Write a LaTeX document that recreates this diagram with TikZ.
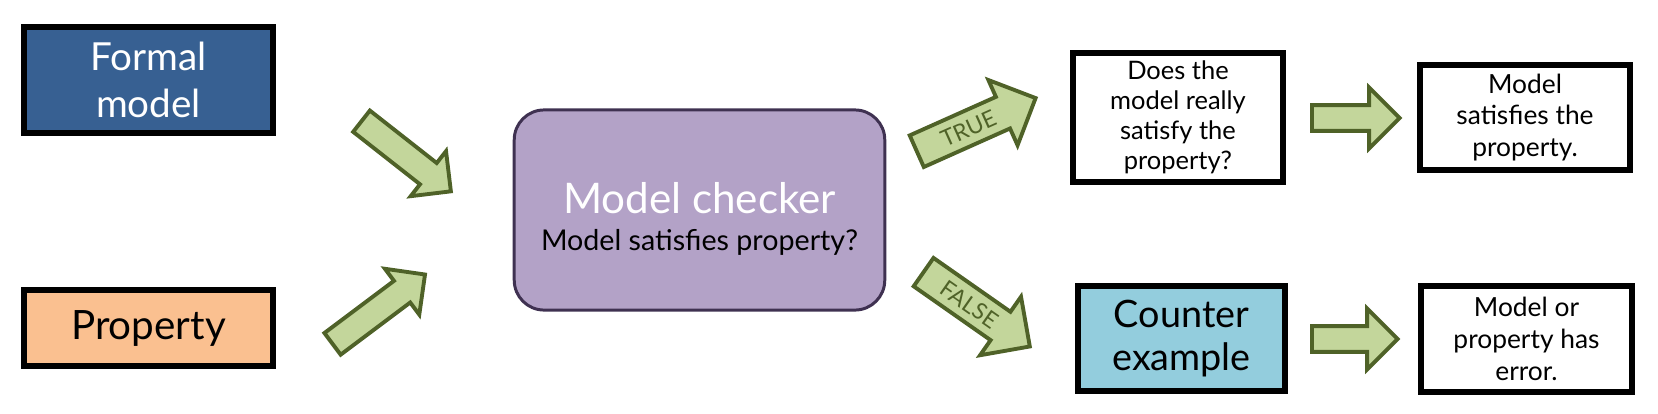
\documentclass[tikz,border=0pt]{standalone}
\usepackage{fontspec}
\setmainfont{Lato}
\usetikzlibrary{shapes.arrows,calc}

\definecolor{formalblue}{HTML}{376092}
\definecolor{propertyorange}{HTML}{FAC090}
\definecolor{checkerfill}{HTML}{B3A2C7}
\definecolor{checkerline}{HTML}{3F3151}
\definecolor{counterblue}{HTML}{93CDDD}
\definecolor{arrowfill}{HTML}{C3D69B}
\definecolor{arrowline}{HTML}{4F6228}

% block arrow from tail coordinate to tip coordinate
\newcommand{\fatarrow}[4][]{%
  \path let \p1=(#2), \p2=(#3),
    \n1={atan2(\y2-\y1,\x2-\x1)}, \n2={veclen(\x2-\x1,\y2-\y1)} in
    node[fatarrow,#1,anchor=tail,rotate=\n1,minimum height=\n2-2.5pt] at (#2) {#4};}

\begin{document}
\begin{tikzpicture}[x=0.02cm,y=-0.02cm,
    box/.style={draw=black,line width=3.4pt,align=center,inner sep=0pt},
    fatarrow/.style={single arrow,draw=arrowline,fill=arrowfill,line width=2.2pt,
      inner xsep=0pt,text height=0pt,text depth=0pt,text=arrowline},
    inarrow/.style={inner ysep=6.6pt,minimum width=30.5pt,single arrow head extend=8.6pt},
    splitarrow/.style={inner ysep=4pt,minimum width=38.5pt,single arrow head extend=10.5pt,
      text height=9.5pt,font=\fontsize{13}{15}\selectfont},
    outarrow/.style={inner ysep=6.2pt,minimum width=32.5pt,single arrow head extend=10pt}]
  \useasboundingbox (0,0) rectangle (1658,413);

  % inputs
  \node[box,fill=formalblue,text=white,minimum width=141.2pt,minimum height=60.1pt,
    font=\fontsize{22}{27.2}\selectfont] (formal) at (148.5,80) {Formal\\model};
  \node[box,fill=propertyorange,minimum width=141.2pt,minimum height=43.1pt,
    font=\fontsize{23}{27.2}\selectfont] (property) at (148.5,328) {Property};

  % checker
  \node[draw=checkerline,fill=checkerfill,line width=1.7pt,rounded corners=17pt,
    minimum width=210.9pt,minimum height=113.9pt,align=center,
    font=\fontsize{16.3}{21}\selectfont] (checker) at (699.5,210)
    {\rule{0pt}{28pt}{\color{white}\fontsize{24}{26}\selectfont Model checker}\\Model satisfies property?};

  % results
  \node[box,fill=white,minimum width=119pt,minimum height=73.1pt,
    font=\fontsize{14.5}{17}\selectfont] (question) at (1178,117.5)
    {Does the\\model really\\satisfy the\\property?};
  \node[box,fill=counterblue,minimum width=117.3pt,minimum height=59.5pt,
    font=\fontsize{21.5}{24.4}\selectfont] (counter) at (1181.5,338.5) {Counter\\example};
  \node[box,fill=white,minimum width=119pt,minimum height=59.5pt,
    font=\fontsize{15}{18}\selectfont] (satisfied) at (1525,117.5)
    {Model\\satisfies the\\property.};
  \node[box,fill=white,minimum width=119.6pt,minimum height=60.1pt,
    font=\fontsize{15}{18}\selectfont] (error) at (1526.5,339)
    {Model or\\property has\\error.};

  % arrow ends
  \coordinate (formal tail) at (360,120);
  \coordinate (formal tip) at (453,193);
  \coordinate (property tail) at (331,345);
  \coordinate (property tip) at (427,273);
  \coordinate (true tail) at (915,152);
  \coordinate (true tip) at (1038,97);
  \coordinate (false tail) at (922,271);
  \coordinate (false tip) at (1032,348);
  \coordinate (satisfied tail) at (1310,118);
  \coordinate (satisfied tip) at (1402,118);
  \coordinate (error tail) at (1310,339);
  \coordinate (error tip) at (1400,339);

  \fatarrow[inarrow,name=a1]{formal tail}{formal tip}{}
  \fatarrow[inarrow,name=a2]{property tail}{property tip}{}
  \fatarrow[splitarrow,name=a3]{true tail}{true tip}{TRUE}
  \fatarrow[splitarrow,name=a4]{false tail}{false tip}{FALSE}
  \fatarrow[outarrow,name=a5]{satisfied tail}{satisfied tip}{}
  \fatarrow[outarrow,name=a6]{error tail}{error tip}{}
\end{tikzpicture}
\end{document}
